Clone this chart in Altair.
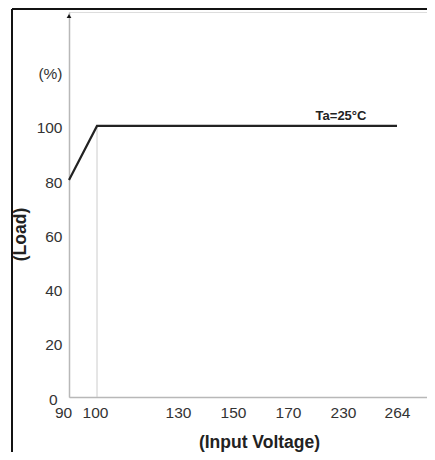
import altair as alt
import pandas as pd

# data
volt = [90, 100, 264]
load = [80, 100, 100]
x_ticks = [90, 100, 130, 150, 170, 230, 264]
y_ticks = [0, 20, 40, 60, 80, 100, 120]
note_text = ["Ta=25°C"]
note_x = [230]
note_y = [100]

df = pd.DataFrame({"v": volt, "load": load})
guide = pd.DataFrame({"v": [100], "y0": [0], "y1": [100]})
arrow = pd.DataFrame({"v": [90], "load": [140.5]})
note = pd.DataFrame({"v": note_x, "load": note_y, "t": note_text})

FONT = "Liberation Sans"
W, H = 358, 385

xscale = alt.Scale(
    type="linear",
    domain=[90, 100, 130, 150, 170, 230, 264, 290],
    range=[0, 28, 109, 164, 219, 274, 328, 358],
    zero=False,
    nice=False,
)
yscale = alt.Scale(domain=[0, 142], nice=False, zero=True)

xaxis = alt.Axis(
    values=x_ticks,
    grid=False,
    ticks=False,
    domainColor="#b8b8b8",
    domainWidth=1.5,
    labelColor="#333333",
    labelFont=FONT,
    labelFontSize=15.5,
    labelPadding=8,
    labelOffset={"condition": [{"test": "datum.value == 90", "value": -6},
                               {"test": "datum.value == 100", "value": -2}],
                 "value": 0},
    labelFlush=False,
    labelOverlap=False,
    title="(Input Voltage)",
    titleFont=FONT,
    titleFontSize=17.5,
    titleFontWeight="bold",
    titleColor="#222222",
    titleX=190,
    titleY=45,
    titleBaseline="middle",
    titleAlign="center",
)
yaxis = alt.Axis(
    values=y_ticks,
    grid=False,
    ticks=False,
    domainColor="#b8b8b8",
    domainWidth=1.5,
    labelColor="#333333",
    labelFont=FONT,
    labelFontSize=15.5,
    labelOffset=2,
    labelPadding={"condition": {"test": "datum.value == 0", "value": 12}, "value": 7},
    labelExpr="datum.value == 120 ? '(%)' : datum.label",
    labelFlush=False,
    labelOverlap=False,
    title="(Load)",
    titleFont=FONT,
    titleFontSize=17.5,
    titleFontWeight="bold",
    titleColor="#222222",
    titleAngle=-90,
    titleX=-49,
    titleY=222,
    titleBaseline="middle",
    titleAlign="center",
)

base = alt.Chart(df)

line = base.mark_line(color="#222222", strokeWidth=2.2).encode(
    x=alt.X("v:Q", scale=xscale, axis=xaxis),
    y=alt.Y("load:Q", scale=yscale, axis=yaxis),
)

vguide = alt.Chart(guide).mark_rule(color="#cccccc", strokeWidth=1).encode(
    x="v:Q", y="y0:Q", y2="y1:Q"
)

arrow_mark = alt.Chart(arrow).mark_point(
    shape="triangle-up", filled=True, color="#111111", size=22, opacity=1
).encode(x="v:Q", y="load:Q")

note_mark = alt.Chart(note).mark_text(
    font=FONT, fontSize=13, fontWeight="bold", color="#222222",
    align="center", baseline="alphabetic", dy=-6, dx=-2
).encode(x="v:Q", y="load:Q", text="t:N")

left_border = alt.Chart(df).mark_rule(color="#111111", strokeWidth=1.5).encode(
    x=alt.value(-57), y=alt.value(-3), y2=alt.value(440)
)
top_border = alt.Chart(df).mark_rule(color="#111111", strokeWidth=1.5).encode(
    x=alt.value(-57), x2=alt.value(360), y=alt.value(-3)
)

chart = alt.layer(
    vguide, line, arrow_mark, note_mark, left_border, top_border
).properties(
    width=W, height=H,
    autosize=alt.AutoSizeParams(type="none"),
    padding={"left": 61, "top": 4, "right": 0, "bottom": 55},
).configure_view(stroke=None).configure(background="white")

chart.save("out.html", embed_options={"renderer": "svg", "actions": False})
